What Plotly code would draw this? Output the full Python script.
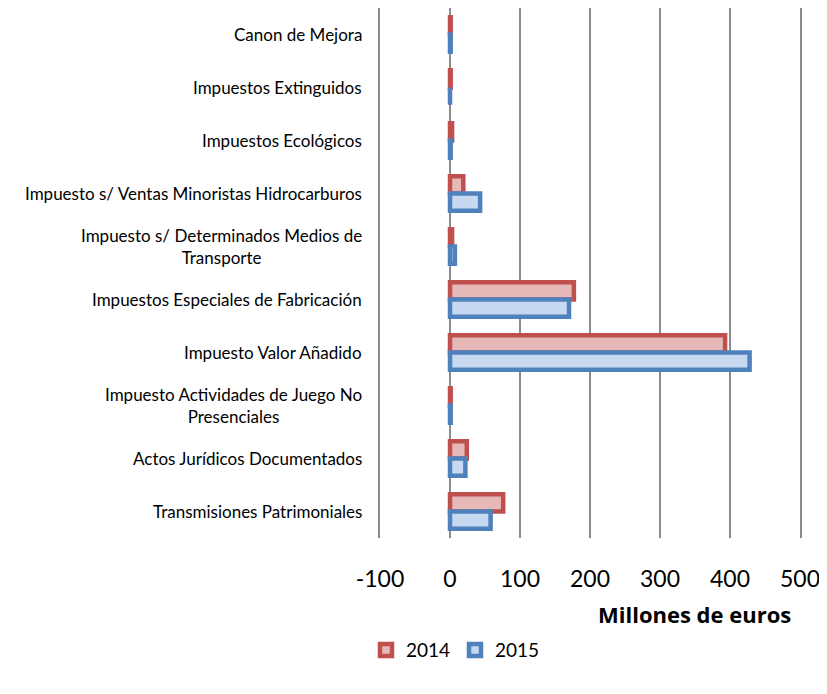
import plotly.graph_objects as go

# categorias (de arriba a abajo)
categorias = [
    "Canon de Mejora",
    "Impuestos Extinguidos",
    "Impuestos Ecológicos",
    "Impuesto s/ Ventas Minoristas Hidrocarburos",
    "Impuesto s/ Determinados Medios de<br>Transporte",
    "Impuestos Especiales de Fabricación",
    "Impuesto Valor Añadido",
    "Impuesto Actividades de Juego No<br>Presenciales",
    "Actos Jurídicos Documentados",
    "Transmisiones Patrimoniales",
]
valores_2014 = [1, 1, 3, 19, 3, 177, 393, 1, 24, 76]
valores_2015 = [1, 0, 1, 43, 7, 170, 428, 1, 22, 58]
ticks_x = [-100, 0, 100, 200, 300, 400, 500]
ticks_txt = ["-100", "0", "100", "200", "300", "400", "500"]

fig = go.Figure()
fig.add_trace(go.Bar(
    y=categorias, x=valores_2014, name="2014", orientation="h",
    marker=dict(color="#E6B9B8", line=dict(color="#C0504D", width=4.5)),
))
fig.add_trace(go.Bar(
    y=categorias, x=valores_2015, name="2015", orientation="h",
    marker=dict(color="#C6D9F1", line=dict(color="#4F81BD", width=4.5)),
))

# etiquetas de categoria (texto centrado si hay dos lineas)
for cat in categorias:
    fig.add_annotation(
        x=-0.038, xref="paper", xanchor="right",
        y=cat, yref="y", text=cat, showarrow=False, align="center",
        font=dict(family="Lato", size=17, color="#000"),
    )

fig.add_annotation(
    x=0.748, xref="paper", xanchor="center",
    y=-0.143, yref="paper", yanchor="middle",
    text="<b>Millones de euros</b>", showarrow=False,
    font=dict(family="Open Sans", size=22, color="#000"),
)

fig.update_layout(
    width=811, height=678,
    margin=dict(l=372, r=19, t=0, b=148),
    barmode="group", bargap=0.35, bargroupgap=0,
    plot_bgcolor="white", paper_bgcolor="white",
    font=dict(family="Lato", color="#000"),
    legend=dict(
        orientation="h", traceorder="normal",
        xref="container", yref="container",
        x=358 / 811, xanchor="left", y=0.053, yanchor="middle",
        font=dict(size=19), entrywidth=44, entrywidthmode="pixels",
    ),
)
fig.update_xaxes(
    range=[-100, 500], tickvals=ticks_x, ticktext=ticks_txt,
    showgrid=True, gridcolor="#8C8C8C", gridwidth=1.5,
    zeroline=True, zerolinecolor="#8C8C8C", zerolinewidth=1.5,
    ticks="outside", ticklen=20, tickcolor="rgba(0,0,0,0)",
    tickfont=dict(size=23, color="#000"), ticklabeloverflow="allow",
)
# linea del eje y reflejada para la rejilla en 500
fig.update_yaxes(
    autorange="reversed", showticklabels=False,
    showline=True, mirror=True, linecolor="#8C8C8C", linewidth=1.5,
)
fig.write_html("out.html")
